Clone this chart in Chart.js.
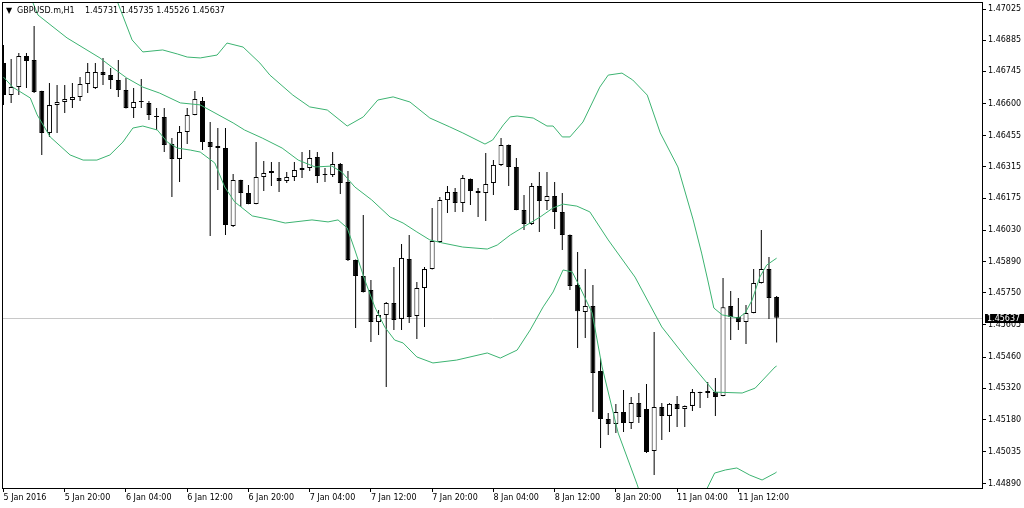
<!DOCTYPE html>
<html lang="en">
<head>
    <meta charset="UTF-8">
    <title>GBPUSD.m,H1</title>
    <script src="https://cdn.jsdelivr.net/npm/chart.js@4"></script>
    <style>
        html, body { margin: 0; padding: 0; background: #fff; }
        #wrap { width: 1024px; height: 508px; position: relative; }
    </style>
</head>
<body>
<div id="wrap"><canvas id="priceChart"></canvas></div>
<script>
    const symbol = 'GBPUSD.m,H1';

    // hourly bars, 5 Jan 2016 .. 11 Jan 2016 17:00
    const opens = [1.46782,1.46638,1.46674,1.46814,1.46796,1.46656,1.46468,1.46593,1.46607,1.46616,
        1.46629,1.46688,1.46670,1.46742,1.46728,1.46706,1.46661,1.46580,1.46611,1.46602,
        1.46544,1.46540,1.46418,1.46351,1.46472,1.46549,1.46611,1.46427,1.46409,1.46400,
        1.46050,1.46256,1.46198,1.46149,1.46270,1.46297,1.46265,1.46252,1.46270,1.46301,
        1.46310,1.46360,1.46283,1.46279,1.46328,1.46247,1.45897,1.45825,1.45762,1.45618,
        1.45650,1.45703,1.45632,1.45901,1.45645,1.45771,1.45856,1.45978,1.46166,1.46202,
        1.46153,1.46261,1.46207,1.46198,1.46243,1.46324,1.46414,1.46315,1.46122,1.46059,
        1.46229,1.46162,1.46184,1.46113,1.46009,1.45784,1.45663,1.45690,1.45398,1.45182,
        1.45160,1.45214,1.45164,1.45254,1.45227,1.45038,1.45236,1.45196,1.45250,1.45227,
        1.45241,1.45299,1.45299,1.45303,1.45286,1.45690,1.45641,1.45618,1.45659,1.45793,
        1.45856,1.45731];
    const highs = [1.46863,1.46800,1.46827,1.46827,1.46949,1.46658,1.46692,1.46683,1.46683,1.46692,
        1.46719,1.46782,1.46782,1.46805,1.46760,1.46796,1.46715,1.46670,1.46710,1.46611,
        1.46580,1.46580,1.46445,1.46499,1.46580,1.46656,1.46629,1.46517,1.46490,1.46490,
        1.46283,1.46258,1.46234,1.46427,1.46342,1.46337,1.46337,1.46292,1.46337,1.46382,
        1.46391,1.46382,1.46310,1.46382,1.46333,1.46297,1.45899,1.46099,1.45807,1.45672,
        1.45708,1.45865,1.45969,1.46009,1.45798,1.45865,1.46130,1.46180,1.46229,1.46220,
        1.46279,1.46263,1.46220,1.46378,1.46346,1.46445,1.46416,1.46355,1.46189,1.46243,
        1.46292,1.46292,1.46247,1.46198,1.46011,1.45933,1.45856,1.45784,1.45456,1.45209,
        1.45250,1.45312,1.45281,1.45299,1.45339,1.45573,1.45254,1.45254,1.45286,1.45243,
        1.45317,1.45305,1.45348,1.45366,1.45816,1.45758,1.45726,1.45695,1.45856,1.46032,
        1.45910,1.45735];
    const lows = [1.46593,1.46602,1.46638,1.46670,1.46647,1.46369,1.46450,1.46468,1.46558,1.46580,
        1.46611,1.46647,1.46665,1.46683,1.46665,1.46629,1.46578,1.46535,1.46580,1.46526,
        1.46481,1.46382,1.46180,1.46247,1.46418,1.46547,1.46391,1.46005,1.46211,1.46009,
        1.46045,1.46135,1.46147,1.46147,1.46207,1.46229,1.46202,1.46243,1.46252,1.46265,
        1.46297,1.46243,1.46247,1.46270,1.46193,1.45892,1.45591,1.45751,1.45528,1.45560,
        1.45326,1.45582,1.45582,1.45614,1.45542,1.45596,1.45854,1.45973,1.46108,1.46113,
        1.46113,1.46144,1.46090,1.46072,1.46189,1.46319,1.46229,1.46120,1.46032,1.46054,
        1.46023,1.46122,1.46036,1.45942,1.45762,1.45501,1.45546,1.45214,1.45052,1.45110,
        1.45119,1.45124,1.45137,1.45164,1.45029,1.44930,1.45088,1.45124,1.45146,1.45146,
        1.45218,1.45232,1.45277,1.45196,1.45284,1.45537,1.45582,1.45519,1.45657,1.45791,
        1.45632,1.45526];
    const closes = [1.46638,1.46674,1.46814,1.46791,1.46652,1.46468,1.46593,1.46607,1.46620,1.46629,
        1.46688,1.46742,1.46742,1.46728,1.46706,1.46661,1.46580,1.46607,1.46607,1.46549,
        1.46540,1.46414,1.46351,1.46472,1.46549,1.46620,1.46427,1.46405,1.46400,1.46054,
        1.46256,1.46198,1.46149,1.46270,1.46288,1.46288,1.46252,1.46270,1.46301,1.46310,
        1.46355,1.46274,1.46279,1.46328,1.46243,1.45897,1.45825,1.45753,1.45618,1.45650,
        1.45703,1.45627,1.45906,1.45641,1.45771,1.45856,1.45982,1.46166,1.46202,1.46153,
        1.46265,1.46207,1.46198,1.46238,1.46324,1.46414,1.46315,1.46122,1.46059,1.46229,
        1.46162,1.46184,1.46113,1.46009,1.45780,1.45667,1.45690,1.45389,1.45182,1.45160,
        1.45214,1.45164,1.45254,1.45191,1.45034,1.45236,1.45196,1.45250,1.45227,1.45241,
        1.45303,1.45303,1.45308,1.45281,1.45685,1.45641,1.45618,1.45659,1.45793,1.45856,
        1.45726,1.45637];

    // Bollinger bands as [bar, price]
    const upperBand = [[14.8,1.47065],[16.8,1.46886],[18.2,1.46832],[20.8,1.46841],[22.7,1.46823],
        [24.0,1.46809],[25.7,1.46805],[27.9,1.46818],[29.2,1.46872],[31.3,1.46854],[33.5,1.46782],
        [34.8,1.46728],[37.8,1.46638],[40.0,1.46585],[42.3,1.46571],[44.9,1.46499],[47.0,1.46540],
        [48.9,1.46616],[50.9,1.46630],[53.1,1.46607],[55.7,1.46535],[58.3,1.46495],[60.0,1.46468],
        [62.9,1.46418],[63.9,1.46436],[65.3,1.46504],[66.2,1.46540],[67.1,1.46544],[69.2,1.46535],
        [71.0,1.46499],[71.8,1.46499],[73.0,1.46450],[74.0,1.46450],[75.7,1.46517],[77.9,1.46674],
        [79.0,1.46728],[80.8,1.46737],[82.2,1.46706],[84.1,1.46638],[85.8,1.46468],[88.1,1.46315],
        [90.1,1.46077],[91.2,1.45928],[92.0,1.45807],[92.8,1.45681],[93.9,1.45650],[95.2,1.45641],
        [96.0,1.45636],[96.9,1.45659],[97.8,1.45717],[98.8,1.45820],[99.7,1.45874],[101.0,1.45905]];
    const middleBand = [[3.7,1.47065],[4.5,1.46998],[8.3,1.46895],[12.6,1.46805],[14.3,1.46760],
        [16.1,1.46715],[18.2,1.46674],[20.4,1.46647],[23.1,1.46603],[25.7,1.46594],[30.0,1.46513],
        [31.5,1.46481],[33.8,1.46445],[36.4,1.46400],[38.5,1.46346],[40.7,1.46315],[42.9,1.46319],
        [44.2,1.46292],[45.9,1.46225],[48.1,1.46167],[50.5,1.46090],[52.2,1.46063],[54.0,1.46023],
        [55.7,1.45987],[57.4,1.45973],[60.0,1.45955],[63.2,1.45946],[64.5,1.45964],[66.2,1.46009],
        [67.9,1.46045],[70.1,1.46090],[71.8,1.46131],[73.1,1.46148],[74.9,1.46139],[76.6,1.46113],
        [79.0,1.45987],[82.5,1.45820],[86.0,1.45596],[89.4,1.45447],[92.9,1.45303],[96.5,1.45299],
        [98.2,1.45321],[100.8,1.45416],[101.0,1.45420]];
    const lowerBand = [[0.0,1.46719],[1.2,1.46674],[3.5,1.46625],[4.4,1.46549],[6.1,1.46450],
        [8.7,1.46369],[10.4,1.46346],[12.2,1.46346],[13.9,1.46369],[15.6,1.46427],[16.9,1.46490],
        [18.2,1.46499],[20.1,1.46481],[21.4,1.46427],[22.7,1.46400],[24.4,1.46391],[25.7,1.46382],
        [27.6,1.46333],[28.9,1.46225],[30.2,1.46158],[32.5,1.46095],[35.1,1.46077],[36.8,1.46063],
        [40.3,1.46077],[42.4,1.46068],[43.7,1.46077],[44.9,1.46041],[45.9,1.45942],[47.2,1.45807],
        [48.5,1.45686],[49.8,1.45596],[51.1,1.45537],[52.2,1.45524],[54.0,1.45461],[56.1,1.45434],
        [59.2,1.45447],[63.2,1.45479],[64.9,1.45456],[67.1,1.45492],[68.8,1.45582],[70.5,1.45686],
        [71.8,1.45753],[73.1,1.45852],[74.3,1.45843],[75.3,1.45775],[76.9,1.45659],[78.2,1.45416],
        [80.3,1.45119],[82.8,1.44886],[83.2,1.44841],[91.5,1.44841],[92.9,1.44939],[94.3,1.44953],
        [95.8,1.44962],[97.5,1.44930],[99.1,1.44908],[100.8,1.44939],[101.0,1.44944]];

    const xTickIdx = [0, 8, 16, 24, 32, 40, 48, 56, 64, 72, 80, 88, 96];
    const xTickLabels = ['5 Jan 2016', '5 Jan 20:00', '6 Jan 04:00', '6 Jan 12:00', '6 Jan 20:00',
        '7 Jan 04:00', '7 Jan 12:00', '7 Jan 20:00', '8 Jan 04:00', '8 Jan 12:00', '8 Jan 20:00',
        '11 Jan 04:00', '11 Jan 12:00'];
    const yTicks = [1.47025, 1.46885, 1.46745, 1.46600, 1.46455, 1.46315, 1.46175, 1.46030,
        1.45890, 1.45750, 1.45605, 1.45460, 1.45320, 1.45180, 1.45035, 1.44890];

    const last = opens.length - 1;
    const lastPrice = closes[last];
    const bandColor = '#3cb371';
    const axisFont = { family: '"DejaVu Sans", sans-serif', size: 8 };
    const fontCss = '8px "DejaVu Sans", sans-serif';

    const toPoints = arr => arr.map(p => ({ x: p[0], y: p[1] }));

    // frame, last price line, price tag and symbol header
    const terminalDecor = {
        id: 'terminalDecor',
        beforeDatasetsDraw(chart) {
            const { ctx, chartArea: a, scales: { y } } = chart;
            const py = Math.round(y.getPixelForValue(lastPrice)) + 0.5;
            ctx.save();
            ctx.strokeStyle = '#c8c8c8';
            ctx.lineWidth = 1;
            ctx.beginPath();
            ctx.moveTo(a.left, py);
            ctx.lineTo(a.right, py);
            ctx.stroke();
            ctx.restore();
        },
        afterDraw(chart) {
            const { ctx, chartArea: a, scales: { y } } = chart;
            ctx.save();
            ctx.strokeStyle = '#000';
            ctx.lineWidth = 1;
            ctx.strokeRect(Math.round(a.left) - 0.5, Math.round(a.top) - 0.5,
                Math.round(a.right - a.left) + 1, Math.round(a.bottom - a.top) + 1);

            const py = Math.round(y.getPixelForValue(lastPrice));
            ctx.fillStyle = '#000';
            ctx.fillRect(a.right + 3, py - 4, 40, 9);
            ctx.fillStyle = '#fff';
            ctx.font = fontCss;
            ctx.textBaseline = 'middle';
            ctx.fillText(lastPrice.toFixed(5), a.right + 5, py + 0.5);

            ctx.fillStyle = '#000';
            ctx.fillText('\u25BC', a.left + 3, a.top + 8);
            ctx.fillText(symbol, a.left + 14, a.top + 8);
            ctx.fillText([opens[last], highs[last], lows[last], closes[last]]
                .map(v => v.toFixed(5)).join(' '), a.left + 82, a.top + 8);
            ctx.restore();
        }
    };

    new Chart(document.getElementById('priceChart'), {
        type: 'bar',
        data: {
            datasets: [
                { type: 'line', label: 'Upper', data: toPoints(upperBand), borderColor: bandColor,
                  borderWidth: 1, pointRadius: 0, tension: 0, order: 0 },
                { type: 'line', label: 'Middle', data: toPoints(middleBand), borderColor: bandColor,
                  borderWidth: 1, pointRadius: 0, tension: 0, order: 0 },
                { type: 'line', label: 'Lower', data: toPoints(lowerBand), borderColor: bandColor,
                  borderWidth: 1, pointRadius: 0, tension: 0, order: 0 },
                {
                    label: 'Body',
                    data: opens.map((o, i) => ({ x: i, y: [o, closes[i]] })),
                    backgroundColor: opens.map((o, i) => closes[i] >= o ? '#fff' : '#000'),
                    borderColor: '#000',
                    borderWidth: 1,
                    borderSkipped: false,
                    inflateAmount: 0,
                    barThickness: 5,
                    grouped: false,
                    order: 1
                },
                {
                    label: 'Wick',
                    data: highs.map((h, i) => ({ x: i, y: [lows[i], h] })),
                    backgroundColor: '#000',
                    borderWidth: 0,
                    inflateAmount: 0,
                    barThickness: 1,
                    grouped: false,
                    order: 2
                }
            ]
        },
        options: {
            responsive: true,
            maintainAspectRatio: false,
            animation: false,
            layout: { padding: { left: 3, top: 3, right: 0, bottom: 0 } },
            plugins: { legend: { display: false }, tooltip: { enabled: false } },
            scales: {
                x: {
                    type: 'linear',
                    offset: false,
                    min: -0.065,
                    max: 127.83,
                    afterBuildTicks: s => { s.ticks = xTickIdx.map(v => ({ value: v })); },
                    afterFit: s => { s.height = 20; s.paddingLeft = 0; s.paddingRight = 0; },
                    ticks: {
                        autoSkip: false, maxRotation: 0, align: 'start', padding: 1,
                        color: '#000', font: axisFont,
                        callback: (v, i) => xTickLabels[i]
                    },
                    grid: { offset: false, drawOnChartArea: false, drawTicks: true, tickLength: 4, color: '#000' },
                    border: { display: true, color: '#000' }
                },
                y: {
                    position: 'right',
                    min: 1.44872,
                    max: 1.47052,
                    afterBuildTicks: s => { s.ticks = yTicks.map(v => ({ value: v })); },
                    afterFit: s => { s.width = 42; s.paddingTop = 0; s.paddingBottom = 0; },
                    ticks: {
                        autoSkip: false, padding: 2, color: '#000', font: axisFont,
                        callback: v => v.toFixed(5)
                    },
                    grid: { drawOnChartArea: false, drawTicks: true, tickLength: 4, color: '#000' },
                    border: { display: true, color: '#000' }
                }
            }
        },
        plugins: [terminalDecor]
    });
</script>
</body>
</html>
